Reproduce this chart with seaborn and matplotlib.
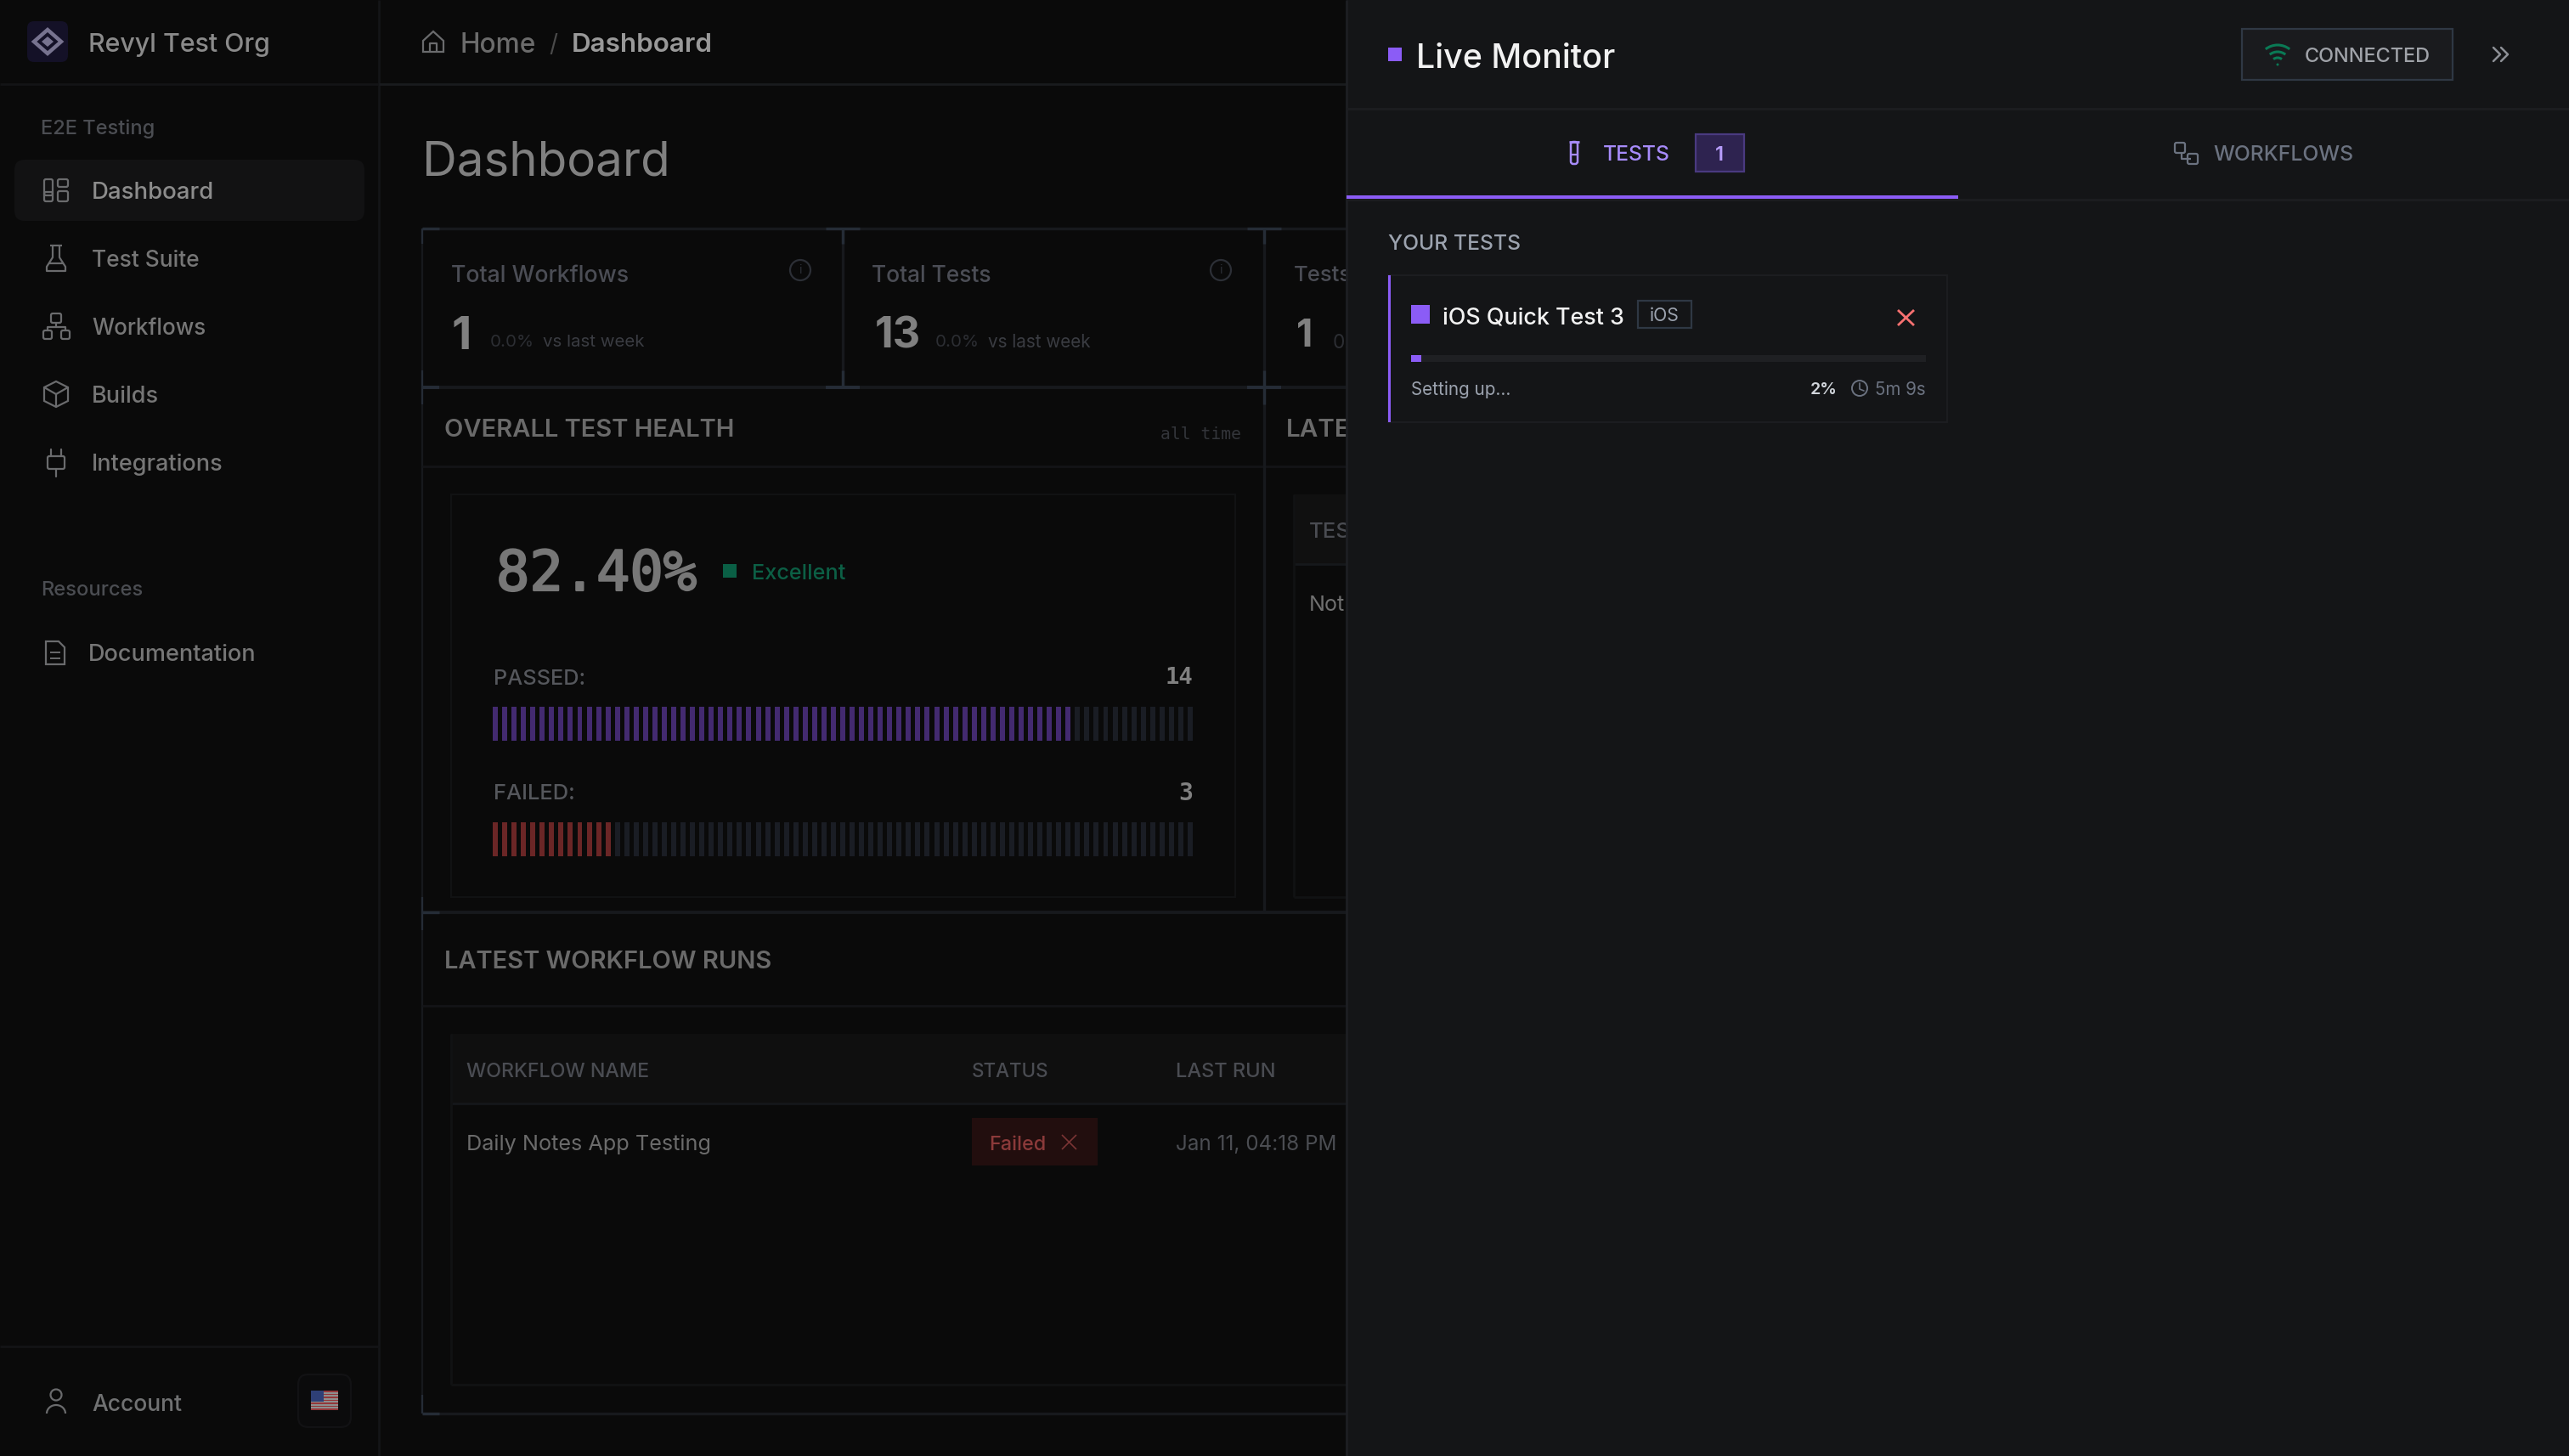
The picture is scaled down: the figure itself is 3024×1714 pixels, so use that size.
import matplotlib
matplotlib.use('Agg')
import matplotlib.pyplot as plt
import matplotlib.patheffects as pe
from matplotlib.patches import Rectangle, FancyBboxPatch, Circle, Arc, Polygon
import pandas as pd
import seaborn as sns

W, H = 3024, 1714

# values
health_pct = '82.40%'
passed_count = 14
failed_count = 3
total_segments = 75
passed_segments = 62
failed_segments = 13
progress_pct = 2
nav_items = ['Dashboard', 'Test Suite', 'Workflows', 'Builds', 'Integrations']
stat_titles = ['Total Workflows', 'Total Tests', 'Tests']
stat_values = ['1', '13', '1']
table_headers = ['WORKFLOW NAME', 'STATUS', 'LAST RUN']

BG = '#0a0a0a'
PANEL = '#141517'
LINE = '#17191d'
CORNER = '#252c36'
ICON = '#6a6b6d'
PURPLE = '#8b5cf6'

sns.set_theme(style='white')
plt.rcParams['font.family'] = ['Inter', 'DejaVu Sans']
PX = 72 / 200  # font px -> pt at dpi 200

fig = plt.figure(figsize=(W / 200, H / 200), dpi=200, facecolor=BG)
ax = fig.add_axes([0, 0, 1, 1])
ax.set_xlim(0, W)
ax.set_ylim(H, 0)
ax.axis('off')
renderer = fig.canvas.get_renderer()


def rect(x0, y0, x1, y1, color, z=1, edge='none', lw=0):
    ax.add_patch(Rectangle((x0, y0), x1 - x0, y1 - y0, facecolor=color, edgecolor=edge, linewidth=lw, zorder=z))


def line(xs, ys, color=LINE, lw=1.0, z=2):
    ax.plot(xs, ys, color=color, lw=lw, zorder=z, solid_capstyle='butt')


def label(s, x0, x1, yc, color, z=3, weight='normal', family=None, size=30, ha='left'):
    # text is fitted to the width measured on the screenshot
    t = ax.text(x0, yc, s, color=color, fontsize=size * PX, va='center_baseline', ha=ha,
                weight=weight, zorder=z)
    if family:
        t.set_family(family)
    if x1 is not None:
        w = t.get_window_extent(renderer).width
        t.set_fontsize(size * PX * (x1 - x0) / w)
    return t


# ---- left sidebar
label('Revyl Test Org', 104, 318, 50, '#8a8a8a', weight='medium')
ax.add_patch(FancyBboxPatch((32, 25), 48, 48, boxstyle='round,pad=0,rounding_size=8', fc='#141127', ec='none', zorder=1))
ax.add_patch(Polygon([(56, 35), (72, 49), (56, 63), (40, 49)], fc='none', ec='#77738f', lw=1.6, zorder=2))
ax.add_patch(Polygon([(56, 43), (63, 49), (56, 55), (49, 49)], fc='#77738f', ec='none', zorder=2))
line([446, 446], [0, H], '#141517')
line([0, 446], [99, 99], '#131416')
line([446, 1590], [99, 99], '#191b1e')
line([0, 446], [1585, 1585], '#131416')

label('E2E Testing', 48, 182, 149, '#4b4d52', weight='medium')
ax.add_patch(FancyBboxPatch((17, 188), 412, 72, boxstyle='round,pad=0,rounding_size=12', fc='#121213', ec='none', zorder=1))
nav_y = [224, 304, 384, 464, 544]
nav_x1 = [252, 235, 242, 187, 262]
nav_col = ['#8c8c8c', '#767676', '#767676', '#767676', '#767676']
for name, y, x1, c in zip(nav_items, nav_y, nav_x1, nav_col):
    label(name, 108, x1, y, c, weight='medium')


def icon_rect(x0, y0, x1, y1, color=ICON, z=2):
    ax.add_patch(FancyBboxPatch((x0, y0), x1 - x0, y1 - y0, boxstyle='round,pad=0,rounding_size=2', fc='none', ec=color, lw=0.8, zorder=z))


# dashboard icon
icon_rect(52, 211, 62, 230)
icon_rect(68, 211, 80, 220)
icon_rect(52, 226, 62, 237)
icon_rect(68, 225, 80, 237)
# flask
line([59, 73], [289, 289], ICON, 0.8)
ax.plot([62, 62, 55, 55, 77, 77, 70, 70], [289, 303, 314, 319, 319, 314, 303, 289], color=ICON, lw=0.8, zorder=2)
line([57, 75], [310, 310], ICON, 0.8)
# workflow tree
icon_rect(60, 369, 72, 380)
icon_rect(51, 389, 61, 399)
icon_rect(72, 389, 82, 399)
ax.plot([66, 66], [380, 385], color=ICON, lw=0.8, zorder=2)
ax.plot([56, 56, 77, 77], [389, 385, 385, 389], color=ICON, lw=0.8, zorder=2)
# box
ax.add_patch(Polygon([(66, 449), (80, 456), (80, 472), (66, 479), (52, 472), (52, 456)], fc='none', ec=ICON, lw=0.8, zorder=2))
ax.plot([52, 66, 80], [456, 464, 456], color=ICON, lw=0.8, zorder=2)
ax.plot([66, 66], [464, 479], color=ICON, lw=0.8, zorder=2)
# plug
ax.plot([60, 60], [529, 537], color=ICON, lw=0.8, zorder=2)
ax.plot([72, 72], [529, 537], color=ICON, lw=0.8, zorder=2)
icon_rect(56, 537, 76, 552)
ax.plot([66, 66], [552, 561], color=ICON, lw=0.8, zorder=2)

label('Resources', 48, 168, 692, '#4b4d52', weight='medium')
label('Documentation', 104, 301, 768, '#767676', weight='medium')
ax.add_patch(Polygon([(54, 755), (69, 755), (76, 762), (76, 782), (54, 782)], fc='none', ec=ICON, lw=0.8, zorder=2))
line([59, 71], [768, 768], ICON, 0.7)
line([59, 71], [775, 775], ICON, 0.7)

label('Account', 108, 214, 1651, '#707172', weight='medium')
ax.add_patch(Circle((66, 1642), 6.5, fc='none', ec=ICON, lw=0.8, zorder=2))
ax.add_patch(Arc((66, 1664), 22, 20, theta1=180, theta2=360, ec=ICON, lw=0.8, zorder=2))
ax.add_patch(FancyBboxPatch((351, 1618), 62, 62, boxstyle='round,pad=0,rounding_size=12', fc='#0b0b0c', ec='#121214', lw=0.8, zorder=1))
for i in range(13):
    y = 1637 + i * 23 / 13
    rect(366, y, 398, y + 23 / 13, '#93373a' if i % 2 == 0 else '#8e8e8e', z=2)
rect(366, 1637, 381, 1650, '#2e3f76', z=3)

# ---- breadcrumb and title
ax.add_patch(Polygon([(498, 48), (510, 37), (522, 48), (522, 61), (498, 61)], fc='none', ec=ICON, lw=0.8, zorder=2))
line([506, 506, 514, 514], [61, 51, 51, 61], ICON, 0.8)
label('Home', 541, 630, 50, '#6b6b6b', weight='medium')
label('/', 646, 656, 50, '#4a4a4a')
label('Dashboard', 673, 839, 50, '#999999', weight='semibold')
label('Dashboard', 497, 790, 186, '#808080', weight='normal')

# ---- stat cards and their corner ticks
line([497, 1590], [269, 269], LINE, 1.2)
line([497, 1590], [456, 456], LINE, 1.4)
line([497, 497], [269, 1664], LINE, 0.8)
for x in [992, 1488]:
    line([x, x], [269, 456], LINE, 1.2)
for x in [992, 1488]:
    line([x, x], [269, 287], CORNER, 1.2, z=3)
    line([x, x], [436, 456], CORNER, 1.2, z=3)
    line([x - 20, x + 20], [456, 456], CORNER, 1.4, z=3)
    line([x - 20, x + 20], [269, 269], CORNER, 1.2, z=3)
line([1488, 1488], [456, 476], CORNER, 1.2, z=3)
line([497, 517], [269, 269], CORNER, 1.2, z=3)
line([497, 517], [456, 456], CORNER, 1.4, z=3)
line([497, 497], [269, 287], CORNER, 0.8, z=3)
line([497, 497], [436, 476], CORNER, 0.8, z=3)

stat_x = [(531, 740), (1026, 1167), (1523, 1591)]
val_x = [(532, 555), (1030, 1084), (1526, 1545)]
for title, v, (x0, x1), (vx0, vx1) in zip(stat_titles, stat_values, stat_x, val_x):
    label(title, x0, x1, 322, '#4b4d55', weight='medium')
    label(v, vx0, vx1, 391, '#808080', weight='bold')
label('0.0%', 577, 629, 401, '#2c2e33')
label('vs last week', 639, 759, 401, '#3a3c42')
label('0.0%', 1101, 1153, 401, '#2c2e33')
label('vs last week', 1163, 1284, 401, '#3a3c42')
label('0.', 1569, 1590, 401, '#2c2e33')
for cx in [942, 1437]:
    ax.add_patch(Circle((cx, 318), 12, fc='none', ec='#2c2f36', lw=0.8, zorder=2))
    ax.text(cx, 318, 'i', color='#2c2f36', fontsize=14 * PX, ha='center', va='center', zorder=3)

# ---- overall test health
label('OVERALL TEST HEALTH', 523, 866, 503, '#6a6a6a', weight='semibold')
label('all time', 1366, 1461, 509, '#33353a', family='DejaVu Sans Mono')
label('LATE', 1514, 1590, 503, '#6a6a6a', weight='semibold')
line([497, 1590], [549, 549], '#131417')
line([1488, 1488], [456, 1072], LINE, 1.2)
line([497, 1590], [1074, 1074], LINE, 1.4)
ax.add_patch(Rectangle((531, 582), 923, 474, fc='none', ec='#111213', lw=0.8, zorder=1))
rect(1523, 582, 1590, 664, '#101010')
line([1523, 1590], [664, 664], '#16181b')
line([1523, 1523], [582, 1056], '#111213')
line([1523, 1590], [1056, 1056], '#111213')
label('TES', 1541, 1590, 624, '#4a4c52', weight='medium')
label('Not', 1541, 1583, 710, '#707070')

pct = label(health_pct, 584, 821, 670, '#777777', family='DejaVu Sans Mono')
pct.set_path_effects([pe.withStroke(linewidth=0.8, foreground='#777777')])
rect(851, 664, 867, 680, '#0a5f45')
label('Excellent', 885, 995, 673, '#0c5f45', weight='medium')
label('PASSED:', 581, 689, 797, '#55575c', weight='medium')
label(str(passed_count), 1371, 1404, 795, '#808080', weight='bold', family='DejaVu Sans Mono')
label('FAILED:', 581, 677, 932, '#55575c', weight='medium')
label(str(failed_count), 1387, 1404, 931, '#808080', weight='bold', family='DejaVu Sans Mono')


def segment_bar(y0, y1, lit, lit_color):
    # one axes per meter, sized so that a segment is 11.05 px wide
    x0 = 577.5
    bar_ax = fig.add_axes([x0 / W, 1 - y1 / H, 829 / W, (y1 - y0) / H], zorder=5)
    df = pd.DataFrame({'segment': range(total_segments), 'height': 1,
                       'state': ['lit' if i < lit else 'off' for i in range(total_segments)]})
    sns.barplot(data=df, x='segment', y='height', hue='state', dodge=False, legend=False, width=0.54,
                palette={'lit': lit_color, 'off': '#1a1d24'}, saturation=1, linewidth=0, ax=bar_ax)
    bar_ax.set_xlim(-0.5, total_segments - 0.5)
    bar_ax.set_ylim(0, 1)
    bar_ax.axis('off')


segment_bar(832, 872, passed_segments, '#432a70')
segment_bar(968, 1008, failed_segments, '#6b2626')

# ---- latest workflow runs
label('LATEST WORKFLOW RUNS', 523, 909, 1129, '#6a6a6a', weight='semibold')
line([497, 1590], [1184, 1184], '#131417')
rect(531, 1217, 1590, 1299, '#0f0f0f')
line([531, 1590], [1299, 1299], '#15171a')
line([531, 531], [1217, 1630], '#111213')
line([531, 1590], [1630, 1630], '#111213')
line([497, 1590], [1664, 1664], LINE, 1.2)
for y0, y1 in [(1056, 1095), (1642, 1664)]:
    line([497, 497], [y0, y1], CORNER, 0.8, z=3)
for y in [1074, 1664]:
    line([497, 517], [y, y], CORNER, 1.2, z=3)
for s, x0, x1 in zip(table_headers, [549, 1144, 1384], [764, 1235, 1502]):
    label(s, x0, x1, 1259, '#4a4c52', weight='medium')
label('Daily Notes App Testing', 549, 837, 1345, '#6b6b6b')
rect(1144, 1316, 1292, 1372, '#220e0e')
label('Failed', 1164, 1231, 1345, '#8b3a3a', weight='medium')
line([1250, 1267], [1336, 1353], '#7a3434', 0.6)
line([1250, 1267], [1353, 1336], '#7a3434', 0.6)
label('Jan 11, 04:18 PM', 1384, 1573, 1345, '#4b4d52')

# ---- live monitor panel, drawn above the page so it cuts off what runs under it
rect(1585, 0, W, H, PANEL, z=10)
line([1585, 1585], [0, H], '#1d1f23', 1.0, z=11)
rect(1634, 56, 1650, 72, PURPLE, z=11)
label('Live Monitor', 1667, 1901, 65, '#f2f2f2', z=11, weight='medium')
rect(2639, 34, 2887, 94, '#1a1b1e', z=11, edge='#2f3844', lw=0.8)
for r in [23, 15, 8]:
    ax.add_patch(Arc((2681, 76), 2 * r, 2 * r, theta1=232, theta2=308, ec='#0a7a55', lw=1.1, zorder=12))
ax.add_patch(Circle((2681, 76), 1.5, fc='#0a7a55', ec='none', zorder=12))
label('CONNECTED', 2713, 2861, 64, '#a0a3a9', z=11, weight='medium')
for x in [2935, 2944]:
    ax.plot([x, x + 8, x], [56, 64, 72], color='#8d9096', lw=0.9, zorder=11)
line([1585, W], [128, 128], '#1c1d20', 1.0, z=11)
rect(1585, 230, 2305, 234, PURPLE, z=11)
line([1585, W], [235, 235], '#1c1d20', 1.0, z=10.5)

# tab icons
ax.add_patch(FancyBboxPatch((1849, 167), 8, 26, boxstyle='round,pad=0,rounding_size=3', fc='none', ec='#a78bfa', lw=0.9, zorder=11))
line([1847, 1859], [167, 167], '#a78bfa', 1.0, z=11)
line([1850, 1856], [182, 182], '#a78bfa', 0.8, z=11)
label('TESTS', 1887, 1966, 180, '#a78bfa', z=11, weight='medium')
rect(1996, 158, 2053, 202, '#2e2350', z=11, edge='#4a3a80', lw=0.8)
label('1', 2024, None, 180, '#b79dfb', z=12, weight='semibold', size=24, ha='center')
icon_rect(2560, 168, 2572, 180, '#6b7280', z=11)
icon_rect(2575, 181, 2587, 193, '#6b7280', z=11)
line([2568, 2568, 2579], [180, 187, 187], '#6b7280', 0.8, z=11)
label('WORKFLOWS', 2605, 2770, 180, '#6b7280', z=11, weight='medium')
label('YOUR TESTS', 1634, 1790, 285, '#9ca3af', z=11, weight='medium')

# test card
ax.add_patch(Rectangle((1634, 324), 658, 173, fc='none', ec='#1c1d20', lw=0.8, zorder=11))
rect(1634, 324, 1637, 497, PURPLE, z=12)
rect(1661, 359, 1683, 381, PURPLE, z=11)
label('iOS Quick Test 3', 1698, 1912, 371, '#f2f2f2', z=11, weight='medium')
rect(1928, 354, 1991, 386, PANEL, z=11, edge='#2f3844', lw=0.8)
label('iOS', 1942, 1977, 370, '#9ca3af', z=12)
line([2234, 2253], [365, 383], '#f87171', 1.0, z=11)
line([2234, 2253], [383, 365], '#f87171', 1.0, z=11)

# progress track, 0-100 scale
prog_ax = fig.add_axes([1661 / W, 1 - 426 / H, 606 / W, 8 / H], zorder=15)
prog_ax.set_facecolor('#1f2023')
sns.barplot(x=[progress_pct], y=['progress'], color=PURPLE, saturation=1, width=1, linewidth=0, ax=prog_ax)
prog_ax.set_xlim(0, 100)
prog_ax.set_ylim(0.5, -0.5)
prog_ax.set_xticks([])
prog_ax.set_yticks([])
prog_ax.set_xlabel('')
prog_ax.set_ylabel('')
sns.despine(ax=prog_ax, left=True, bottom=True)

label('Setting up...', 1661, 1779, 457, '#9ca3af', z=11)
label(f'{progress_pct}%', 2131, 2163, 457, '#d1d5db', z=11, weight='semibold')
ax.add_patch(Circle((2189, 457), 9, fc='none', ec='#6b7280', lw=0.7, zorder=11))
ax.plot([2189, 2189, 2194], [451, 458, 460], color='#6b7280', lw=0.6, zorder=11)
label('5m 9s', 2207, 2267, 457, '#6b7280', z=11)

fig.savefig('out.png', dpi=200, facecolor=BG)
